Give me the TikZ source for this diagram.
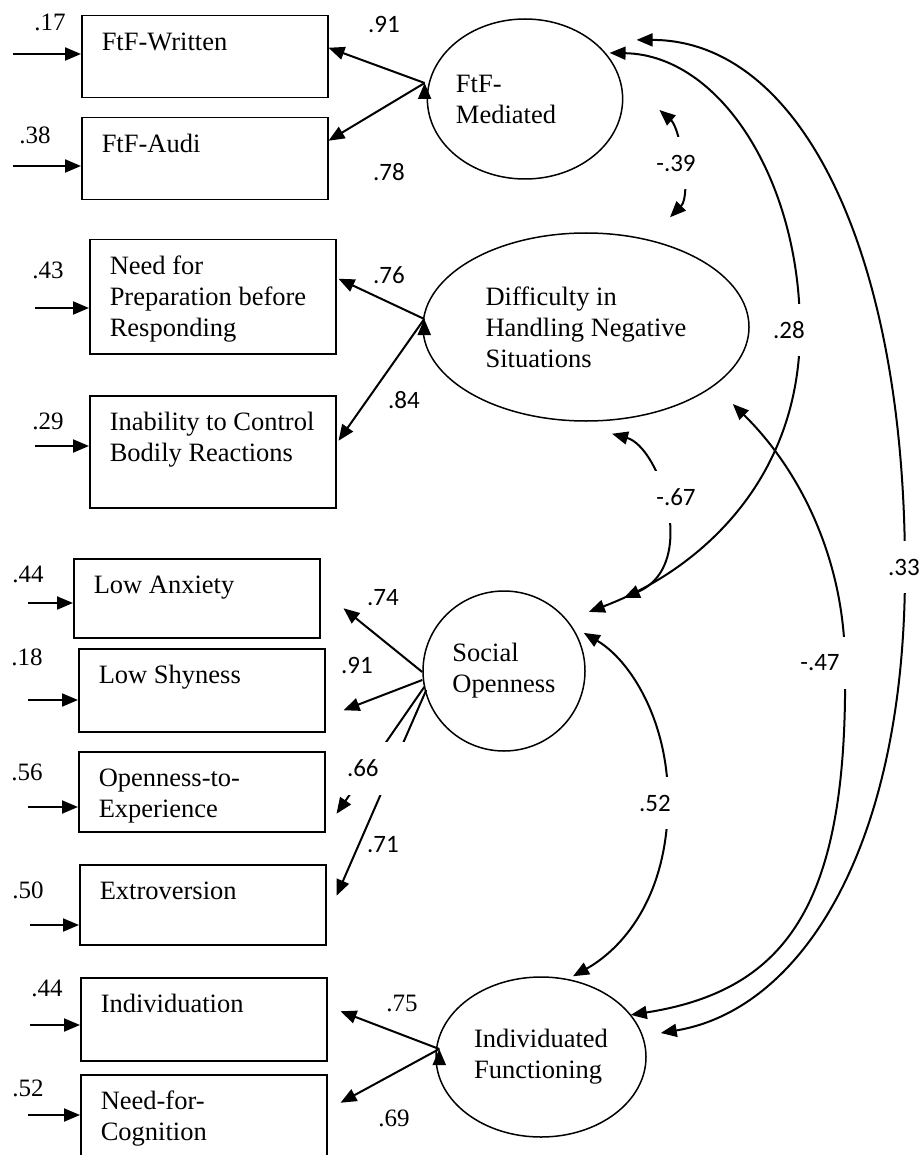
\documentclass[tikz,border=0pt]{standalone}
\usepackage{fontspec}
\setmainfont{Liberation Serif}
\newfontfamily\coeffont{Carlito}
\usepackage{tikz}
\usetikzlibrary{shapes.geometric,arrows.meta}
\newcommand{\obs}[2]{\parbox[c][#1][t]{246pt}{\leftskip=20pt\rule{0pt}{35pt}#2}}
\tikzset{
    manifest/.style={draw, line width=1.5pt, anchor=north west, inner sep=0pt},
    latent/.style={draw, ellipse, line width=1.5pt, align=left, inner sep=0pt},
    coef/.style={font=\coeffont\fontsize{25}{30}\selectfont, inner sep=1pt},
    errlbl/.style={font=\fontsize{25}{30}\selectfont, inner sep=1pt},
    covlbl/.style={coef, fill=white, inner xsep=10pt, minimum height=52pt}
}

\begin{document}
\begin{tikzpicture}[x=1pt, y=-1pt, line width=2pt, >={Triangle[length=16pt,width=13pt]}, font=\fontsize{26.5}{31}\selectfont]
    \useasboundingbox (0,0) rectangle (922,1155);
    \node[manifest] (fw) at (81,15) {\obs{82pt}{FtF-Written}};
    \node[manifest] (fa) at (81,117) {\obs{82pt}{FtF-Audi}};
    \node[manifest] (np) at (89,239) {\obs{114pt}{Need for\\Preparation before\\Responding}};
    \node[manifest] (ic) at (89,395) {\obs{112pt}{Inability to Control\\Bodily Reactions}};
    \node[manifest] (la) at (73,558) {\obs{79pt}{Low Anxiety}};
    \node[manifest] (ls) at (78,648) {\obs{83pt}{Low Shyness}};
    \node[manifest] (oe) at (78,751) {\obs{80pt}{Openness-to-\\Experience}};
    \node[manifest] (ex) at (79,864) {\obs{80pt}{Extroversion}};
    \node[manifest] (iv) at (80,977) {\obs{83pt}{Individuation}};
    \node[manifest] (nc) at (80,1074) {\obs{90pt}{Need-for-\\Cognition}};

    \node[latent, minimum width=192pt, minimum height=160pt] (fm) at (525,99) {FtF-\\Mediated\hspace*{38pt}};
    \node[latent, minimum width=326pt, minimum height=188pt] (dh) at (586,327) {Difficulty in\\Handling Negative\\Situations};
    \node[latent, minimum width=162pt, minimum height=160pt] (so) at (504,671) {Social\\Openness};
    \node[latent, minimum width=210pt, minimum height=160pt] (ifn) at (541,1057) {Individuated\\Functioning};

    \coordinate (e1) at (13,54);
    \coordinate (e2) at (13,166);
    \coordinate (e3) at (35,308);
    \coordinate (e4) at (35,446);
    \coordinate (e5) at (28,603);
    \coordinate (e6) at (28,700);
    \coordinate (e7) at (28,807);
    \coordinate (e8) at (30,925);
    \coordinate (e9) at (30,1025);
    \coordinate (e10) at (28,1115);
    \draw[->] (e1) -- (e1 -| fw.west);
    \draw[->] (e2) -- (e2 -| fa.west);
    \draw[->] (e3) -- (e3 -| np.west);
    \draw[->] (e4) -- (e4 -| ic.west);
    \draw[->] (e5) -- (e5 -| la.west);
    \draw[->] (e6) -- (e6 -| ls.west);
    \draw[->] (e7) -- (e7 -| oe.west);
    \draw[->] (e8) -- (e8 -| ex.west);
    \draw[->] (e9) -- (e9 -| iv.west);
    \draw[->] (e10) -- (e10 -| nc.west);
    \node[errlbl] (r1) at (50,22) {.17};
    \node[errlbl] (r2) at (35,135) {.38};
    \node[errlbl] (r3) at (48,270) {.43};
    \node[errlbl] (r4) at (48,421) {.29};
    \node[errlbl] (r5) at (28,574) {.44};
    \node[errlbl] (r6) at (27,657) {.18};
    \node[errlbl] (r7) at (27,772) {.56};
    \node[errlbl] (r8) at (28,890) {.50};
    \node[errlbl] (r9) at (47,988) {.44};
    \node[errlbl] (r10) at (28,1088) {.52};

    \draw[->] ([shift={(-2,-16)}]fm.west) edge ([shift={(0,-9)}]fw.east) edge ([shift={(0,-18)}]fa.east);
    \draw[->] ([shift={(2,-8)}]dh.west) edge ([shift={(2,-18)}]np.east) edge ([shift={(2,-11)}]ic.east);
    \draw[->] ([shift={(0,1)}]so.west) -- ([shift={(23,10)}]la.east);
    \draw[->] ([shift={(0,9)}]so.west) -- ([shift={(18,20)}]ls.east);
    \draw[->] ([shift={(2,16)}]so.west) -- ([shift={(11,22)}]oe.east);
    \draw[->] ([shift={(4,19)}]so.west) -- ([shift={(10,-9)}]ex.east);
    \draw[->] ([shift={(4,-8)}]ifn.west) edge ([shift={(13,-8)}]iv.east) edge ([shift={(13,-17)}]nc.east);
    \node[coef] (l1) at (384,24) {.91};
    \node[coef] (l2) at (389,172) {.78};
    \node[coef] (l3) at (389,275) {.76};
    \node[coef] (l4) at (404,400) {.84};
    \node[coef] (l5) at (383,598) {.74};
    \node[coef] (l6) at (357,665) {.91};
    \node[coef, fill=white, minimum width=70pt, minimum height=53pt, text width=66pt, align=left] (l7) at (380,768) {.66};
    \node[coef] (l8) at (383,845) {.71};
    \node[errlbl] (l9) at (402,1003) {.75};
    \node[errlbl] (l10) at (394,1118) {.69};

    \draw[<->] ([shift={(36,11)}]fm.east) .. controls (680,128) and (692,195) .. ([shift={(84,-15)}]dh.north)
        node[covlbl] (c1) at (676,163) {-.39};
    \draw[<->] ([shift={(26,12)}]dh.south) .. controls (660,447) and (700,565) .. ([shift={(62,-16)}]so.north east)
        node[covlbl] (c2) at (676,497) {-.67};
    \draw[<->] ([shift={(15,11)}]fm.north east) .. controls (720,55) and (800,180) .. (800,330)
        .. controls (800,480) and (700,570) .. ([shift={(27,-2)}]so.north east)
        node[covlbl] (c3) at (789,330) {.28};
    \draw[<->] ([shift={(42,-2)}]fm.north east) .. controls (800,40) and (905,250) .. (905,570)
        .. controls (905,850) and (800,1010) .. ([shift={(14,-24)}]ifn.east)
        node[covlbl] (c4) at (904,567) {.33};
    \draw[<->] ([shift={(31,10)}]dh.south east) .. controls (800,470) and (845,560) .. (845,665)
        .. controls (848,900) and (790,990) .. ([shift={(15,15)}]ifn.north east)
        node[covlbl] (c5) at (820,663) {-.47};
    \draw[<->] ([shift={(22,19)}]so.north east) .. controls (630,660) and (668,720) .. (668,800)
        .. controls (668,900) and (620,950) .. ([shift={(32,0)}]ifn.north)
        node[covlbl] (c6) at (655,803) {.52};
\end{tikzpicture}
\end{document}
